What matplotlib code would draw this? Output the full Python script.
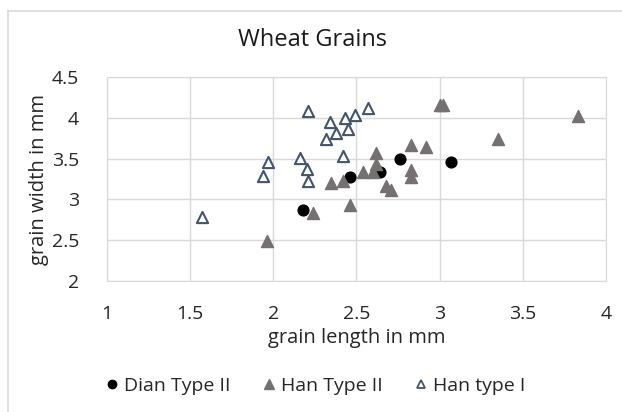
import matplotlib
matplotlib.use("Agg")
import matplotlib.pyplot as plt
from matplotlib.lines import Line2D

# Dian Type II (black circles)
dian_x = [2.18, 2.46, 2.64, 2.76, 3.07]
dian_y = [2.87, 3.27, 3.34, 3.49, 3.46]

# Han Type II (filled grey triangles)
han2_x = [1.96, 2.24, 2.46, 2.35, 2.42, 2.54, 2.60, 2.62, 2.62, 2.68, 2.71,
          2.83, 2.92, 2.83, 2.83, 3.00, 3.02, 3.35, 3.83]
han2_y = [2.49, 2.83, 2.93, 3.20, 3.22, 3.34, 3.34, 3.57, 3.44, 3.17, 3.11,
          3.67, 3.64, 3.36, 3.28, 4.16, 4.16, 3.74, 4.02]

# Han type I (open triangles)
han1_x = [2.21, 2.34, 2.43, 2.49, 2.38, 2.45, 2.32, 2.16, 2.42, 1.97, 1.94,
          2.20, 2.21, 1.57, 2.57]
han1_y = [4.08, 3.95, 4.00, 4.03, 3.82, 3.86, 3.74, 3.51, 3.53, 3.46, 3.29,
          3.37, 3.22, 2.78, 4.12]

grid_c = "#d9d9d9"
text_c = "#262626"
plt.rcParams["font.family"] = ["Open Sans", "DejaVu Sans"]

fig = plt.figure(figsize=(6.22, 4.12), dpi=100)
ax = fig.add_axes([0.172, 0.318, 0.802, 0.495])

ax.scatter(dian_x, dian_y, marker="o", s=60, color="black", zorder=3,
           label="Dian Type II")
ax.scatter(han2_x, han2_y, marker="^", s=75, color="#767171", zorder=3,
           label="Han Type II")
ax.scatter(han1_x, han1_y, marker="^", s=65, facecolor="white",
           edgecolor="#44546a", linewidths=1.5, zorder=3, label="Han type I")

ax.set_xlim(1, 4)
ax.set_ylim(2, 4.5)
ax.set_xticks([1, 1.5, 2, 2.5, 3, 3.5, 4])
ax.set_xticklabels(["1", "1.5", "2", "2.5", "3", "3.5", "4"])
ax.set_yticks([2, 2.5, 3, 3.5, 4, 4.5])
ax.set_yticklabels(["2", "2.5", "3", "3.5", "4", "4.5"])
ax.grid(True, color=grid_c, linewidth=1)
ax.set_axisbelow(True)
for sp in ax.spines.values():
    sp.set_color(grid_c)
ax.tick_params(axis="y", length=0, labelsize=14, colors=text_c, pad=20)
ax.tick_params(axis="x", length=0, labelsize=14, colors=text_c, pad=17)

ax.set_xlabel("grain length in mm", fontsize=14.5, color=text_c, labelpad=4)
ax.set_ylabel("grain width in mm", fontsize=14.5, color=text_c, labelpad=2)
fig.text(0.503, 0.903, "Wheat Grains", ha="center", va="center",
         fontsize=17, color="#1a1a1a")

handles = [
    Line2D([], [], ls="none", marker="o", ms=6, color="black"),
    Line2D([], [], ls="none", marker="^", ms=7, color="#767171"),
    Line2D([], [], ls="none", marker="^", ms=6, mfc="white", mec="#44546a",
           mew=1.3),
]
fig.legend(handles, ["Dian Type II", "Han Type II", "Han type I"],
           loc="center", bbox_to_anchor=(0.503, 0.064), ncol=3,
           frameon=False, fontsize=14, labelcolor=text_c,
           handletextpad=0.0, columnspacing=1.4, handlelength=1.2)

# chart-area border (only left and top visible in the crop)
fig.add_artist(Line2D([0.013, 0.013], [0.973, 0.0], color=grid_c, lw=1.2,
                      transform=fig.transFigure))
fig.add_artist(Line2D([0.013, 1.0], [0.973, 0.973], color=grid_c, lw=1.2,
                      transform=fig.transFigure))

fig.savefig("out.png", dpi=100)
